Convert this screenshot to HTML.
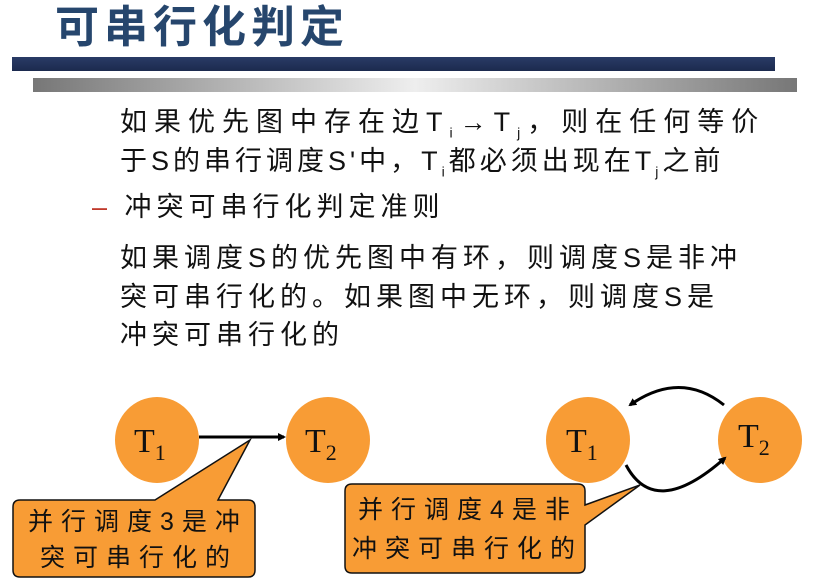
<!DOCTYPE html>
<html><head><meta charset="utf-8"><style>
body{margin:0;width:821px;height:581px;background:#fff;position:relative;overflow:hidden;font-family:"Liberation Sans","Noto Sans CJK SC",sans-serif}
.t{position:absolute;font-size:27px;color:#111;white-space:nowrap;letter-spacing:5px}
</style></head><body>
<div style="position:absolute;left:55px;top:-9px;font-size:44px;font-weight:bold;color:#26466d;letter-spacing:5px;font-family:'Noto Sans CJK SC',sans-serif">可串行化判定</div>
<div style="position:absolute;left:12px;top:57px;width:763px;height:14px;background:linear-gradient(180deg,#2a3b66,#1c2a4e)"></div>
<div style="position:absolute;left:33px;top:78px;width:764px;height:14px;background:linear-gradient(90deg,#777,#eee 50%,#777)"></div>
<div class="t" style="left:120px;top:100px;letter-spacing:7px">如果优先图中存在边T<sub style="font-size:14px">i</sub>→T<sub style="font-size:14px">j</sub>，则在任何等价</div>
<div class="t" style="left:120px;top:139px;letter-spacing:4px">于S的串行调度S'中，T<sub style="font-size:14px">i</sub>都必须出现在T<sub style="font-size:14px">j</sub>之前</div>
<div class="t" style="left:92px;top:185px"><span style="color:#c0392b">–</span> 冲突可串行化判定准则</div>
<div class="t" style="left:120px;top:236px">如果调度S的优先图中有环，则调度S是非冲</div>
<div class="t" style="left:120px;top:275px">突可串行化的。如果图中无环，则调度S是</div>
<div class="t" style="left:120px;top:313px">冲突可串行化的</div>
<svg style="position:absolute;left:0;top:0" width="821" height="581">
<defs><marker id="a" markerWidth="8" markerHeight="8" refX="6" refY="4" orient="auto" markerUnits="userSpaceOnUse"><path d="M0,0L8,4L0,8z" fill="#000"/></marker></defs>
<g fill="#f89c35">
<ellipse cx="157" cy="440" rx="42" ry="43"/><ellipse cx="328" cy="440" rx="42" ry="43"/>
<ellipse cx="588" cy="440" rx="42" ry="43"/><ellipse cx="760" cy="440" rx="42" ry="43"/>
</g>
<line x1="199" y1="437" x2="284" y2="437" stroke="#000" stroke-width="3" marker-end="url(#a)"/>
<path d="M724,405 Q680,370 630,405" fill="none" stroke="#000" stroke-width="3" marker-end="url(#a)"/>
<path d="M626,465 Q655,520 725,458" fill="none" stroke="#000" stroke-width="3" marker-end="url(#a)"/>
<g fill="#f89c35" stroke="#111" stroke-width="1.5">
<path d="M20,500 L155,500 L250,440 L218,500 L248,500 Q255,500 255,507 L255,570 Q255,577 248,577 L20,577 Q13,577 13,570 L13,507 Q13,500 20,500Z"/>
<path d="M352,484 L578,484 Q585,484 585,491 L585,505 L640,485 L585,525 L585,566 Q585,573 578,573 L352,573 Q345,573 345,566 L345,491 Q345,484 352,484Z"/>
</g>
<g font-family="Liberation Serif,serif" font-size="34" fill="#111">
<text x="134" y="452">T<tspan font-size="22" dy="8">1</tspan></text>
<text x="305" y="452">T<tspan font-size="22" dy="8">2</tspan></text>
<text x="566" y="452">T<tspan font-size="22" dy="8">1</tspan></text>
<text x="738" y="447">T<tspan font-size="22" dy="8">2</tspan></text>
</g>
<g font-size="25" fill="#111" font-family="Liberation Sans,Noto Sans CJK SC,sans-serif" letter-spacing="8">
<text x="28" y="530">并行调度3是冲</text><text x="40" y="566">突可串行化的</text>
<text x="358" y="518">并行调度4是非</text><text x="352" y="557">冲突可串行化的</text>
</g>
</svg>
</body></html>
